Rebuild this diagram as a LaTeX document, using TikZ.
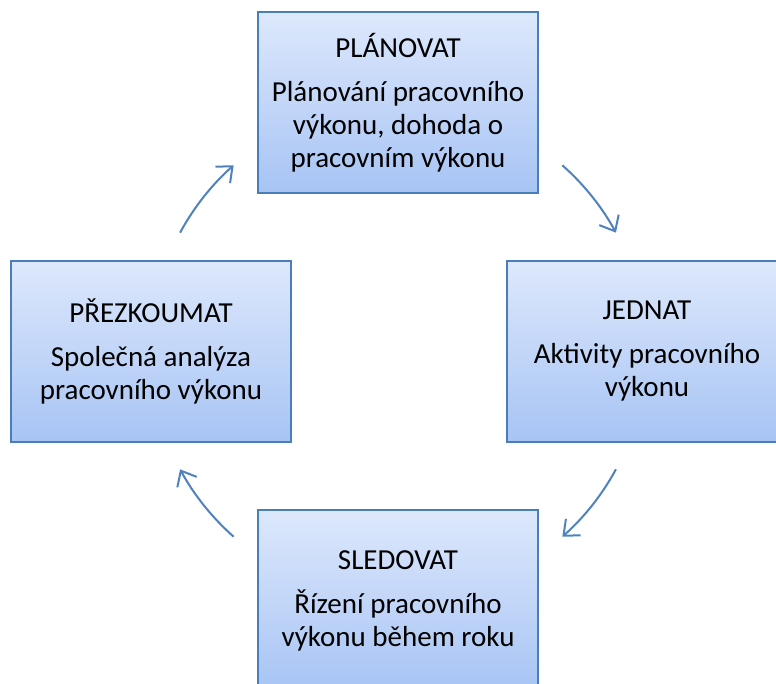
\documentclass[tikz,border=0pt]{standalone}
\usepackage{fontspec}
\setmainfont{Carlito}
\usetikzlibrary{arrows.meta}
\definecolor{boxborder}{HTML}{4A7EBB}
\definecolor{boxtop}{HTML}{DDE8FC}
\definecolor{boxbottom}{HTML}{A7C4F4}
\definecolor{arrowblue}{HTML}{4F81BD}
\begin{document}
\begin{tikzpicture}[x=1pt,y=1pt,
  phase/.style={draw=boxborder, line width=1.8pt, top color=boxtop, bottom color=boxbottom,
    minimum width=280pt, minimum height=181pt, align=center, inner sep=0pt,
    font=\fontsize{29pt}{33pt}\selectfont},
  cyc/.style={draw=arrowblue, line width=2pt, -{Straight Barb[length=13pt,width=22pt]}}]
\useasboundingbox (0,0) rectangle (776,683);
\clip (0,0) rectangle (776,683);
\node[phase] (plan) at (398,580.5) {PLÁNOVAT\\[11pt]Plánování pracovního\\výkonu, dohoda o\\pracovním výkonu};
\node[phase] (review) at (151,331.5) {PŘEZKOUMAT\\[11pt]Společná analýza\\pracovního výkonu};
\node[phase] (act) at (647,331.5) {JEDNAT\\[11pt]Aktivity pracovního\\výkonu};
\node[phase] (monitor) at (398,82.5) {SLEDOVAT\\[11pt]Řízení pracovního\\výkonu během roku};
\coordinate (c) at (398,332);
\draw[cyc] ([shift={(151.5:248)}]c) arc[start angle=151.5, end angle=131.5, radius=248];
\draw[cyc] ([shift={(48.5:248)}]c) arc[start angle=48.5, end angle=28.5, radius=248];
\draw[cyc] ([shift={(-28.5:248)}]c) arc[start angle=-28.5, end angle=-48.5, radius=248];
\draw[cyc] ([shift={(228.5:248)}]c) arc[start angle=228.5, end angle=208.5, radius=248];
\end{tikzpicture}
\end{document}
